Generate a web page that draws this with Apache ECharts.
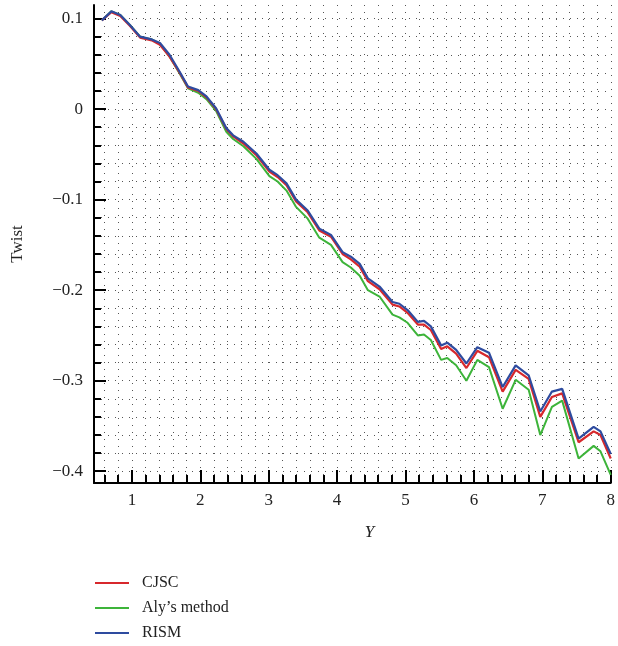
<!DOCTYPE html>
<html>
<head>
<meta charset="utf-8">
<script src="https://cdn.jsdelivr.net/npm/echarts@6/dist/echarts.min.js"></script>
<style>
  html, body { margin: 0; padding: 0; background: #fff; }
  #main { width: 618px; height: 646px; }
</style>
</head>
<body>
<div id="main"></div>
<script>
var names = ['CJSC', 'Aly\u2019s method', 'RISM'];
var xVals = [0.56, 0.70, 0.83, 0.97, 1.12, 1.29, 1.41, 1.55, 1.70, 1.82, 1.97, 2.09, 2.23, 2.38, 2.48, 2.63, 2.82,
  3.01, 3.13, 3.26, 3.40, 3.57, 3.74, 3.91, 4.08, 4.20, 4.33, 4.45, 4.62, 4.81, 4.91, 5.03, 5.18, 5.27, 5.37,
  5.52, 5.61, 5.74, 5.89, 6.05, 6.22, 6.42, 6.61, 6.80, 6.97, 7.14, 7.29, 7.53, 7.75, 7.85, 8.00];
var cjsc = [0.098, 0.107, 0.103, 0.092, 0.079, 0.076, 0.071, 0.058, 0.040, 0.024, 0.020, 0.013, 0.000, -0.022, -0.030, -0.038, -0.051,
  -0.069, -0.075, -0.084, -0.102, -0.114, -0.134, -0.141, -0.160, -0.166, -0.174, -0.190, -0.199, -0.216, -0.218, -0.225, -0.238, -0.238, -0.244,
  -0.265, -0.262, -0.270, -0.286, -0.267, -0.274, -0.312, -0.288, -0.298, -0.340, -0.318, -0.314, -0.368, -0.356, -0.360, -0.386];
var aly = [0.098, 0.108, 0.104, 0.093, 0.080, 0.077, 0.072, 0.058, 0.039, 0.023, 0.018, 0.011, -0.002, -0.025, -0.033, -0.041, -0.055,
  -0.074, -0.080, -0.090, -0.108, -0.121, -0.142, -0.150, -0.169, -0.175, -0.184, -0.200, -0.207, -0.227, -0.230, -0.236, -0.250, -0.249, -0.255,
  -0.277, -0.275, -0.283, -0.300, -0.277, -0.285, -0.331, -0.299, -0.310, -0.360, -0.329, -0.322, -0.386, -0.372, -0.378, -0.404];
var rism = [0.098, 0.108, 0.104, 0.093, 0.080, 0.077, 0.073, 0.060, 0.041, 0.025, 0.021, 0.014, 0.001, -0.021, -0.029, -0.036, -0.049,
  -0.067, -0.073, -0.082, -0.100, -0.112, -0.132, -0.139, -0.158, -0.163, -0.171, -0.187, -0.196, -0.213, -0.215, -0.222, -0.235, -0.234, -0.240,
  -0.261, -0.258, -0.266, -0.281, -0.263, -0.269, -0.307, -0.283, -0.294, -0.334, -0.312, -0.309, -0.364, -0.351, -0.356, -0.381];

// tick positions
var xMinorTicks = [0.6, 0.8, 1, 1.2, 1.4, 1.6, 1.8, 2, 2.2, 2.4, 2.6, 2.8, 3, 3.2, 3.4, 3.6, 3.8, 4, 4.2, 4.4, 4.6, 4.8,
  5, 5.2, 5.4, 5.6, 5.8, 6, 6.2, 6.4, 6.6, 6.8, 7, 7.2, 7.4, 7.6, 7.8, 8];
var xLabels = [1, 2, 3, 4, 5, 6, 7, 8];
var yMinorTicks = [-0.4, -0.38, -0.36, -0.34, -0.32, -0.3, -0.28, -0.26, -0.24, -0.22, -0.2, -0.18, -0.16, -0.14, -0.12,
  -0.1, -0.08, -0.06, -0.04, -0.02, 0, 0.02, 0.04, 0.06, 0.08, 0.1];
var yLabels = [-0.4, -0.3, -0.2, -0.1, 0, 0.1];

function pairs(ys) {
  return xVals.map(function (x, i) { return [x, ys[i]]; });
}

var font = '"Liberation Serif", "DejaVu Serif", serif';
var X_MIN = 0.446, X_MAX = 8, Y_MIN = -0.413, Y_MAX = 0.115;
var lineIcon = 'path://M0,0 L34,0 L34,2 L0,2 Z';

var myChart = echarts.init(document.getElementById('main'));
var option = {
  animation: false,
  grid: { left: 94, right: 6, top: 5, bottom: 163 },
  legend: {
    orient: 'vertical',
    left: 95,
    top: 575,
    height: 71,
    padding: 0,
    itemWidth: 34,
    itemHeight: 14,
    itemGap: 9,
    icon: lineIcon,
    data: names,
    textStyle: { fontFamily: font, fontSize: 16, color: '#222', padding: [0, 0, 0, 8] }
  },
  xAxis: [{
    type: 'value', min: X_MIN, max: X_MAX,
    name: 'Y', nameLocation: 'middle', nameGap: 41,
    nameTextStyle: { fontFamily: font, fontStyle: 'italic', fontSize: 17, color: '#222', padding: [0, 0, 0, 34] },
    axisLine: { onZero: false, lineStyle: { color: '#000', width: 2 } },
    axisTick: { inside: true, length: 8, customValues: xMinorTicks, lineStyle: { color: '#000', width: 2 } },
    axisLabel: { customValues: xLabels, margin: 9, fontFamily: font, fontSize: 17, color: '#222' },
    splitLine: { show: true, lineStyle: { color: '#555', width: 1, type: [1, 6] } }
  }, {
    type: 'value', min: X_MIN, max: X_MAX, position: 'bottom',
    axisLine: { show: false, onZero: false },
    axisTick: { inside: true, length: 13, customValues: xLabels, lineStyle: { color: '#000', width: 2 } },
    axisLabel: { show: false },
    splitLine: { show: false }
  }],
  yAxis: [{
    type: 'value', min: Y_MIN, max: Y_MAX,
    name: 'Twist', nameLocation: 'middle', nameGap: 68,
    nameTextStyle: { fontFamily: font, fontSize: 17, color: '#222' },
    axisLine: { onZero: false, lineStyle: { color: '#000', width: 2 } },
    axisTick: { inside: true, length: 7, customValues: yMinorTicks, lineStyle: { color: '#000', width: 2 } },
    axisLabel: {
      customValues: yLabels, margin: 11, fontFamily: font, fontSize: 17, color: '#222',
      formatter: function (v) { return String(v).replace('-', '\u2212'); }
    },
    splitLine: { show: true, lineStyle: { color: '#555', width: 1, type: [1, 6] } }
  }, {
    type: 'value', min: Y_MIN, max: Y_MAX, position: 'left',
    axisLine: { show: false, onZero: false },
    axisTick: { inside: true, length: 12, customValues: yLabels, lineStyle: { color: '#000', width: 2 } },
    axisLabel: { show: false },
    splitLine: { show: false }
  }],
  series: [
    { name: names[1], type: 'line', data: pairs(aly), symbol: 'none', lineStyle: { color: '#3db43a', width: 2 }, itemStyle: { color: '#3db43a' }, z: 3 },
    { name: names[0], type: 'line', data: pairs(cjsc), symbol: 'none', lineStyle: { color: '#d7282c', width: 2.2 }, itemStyle: { color: '#d7282c' }, z: 4 },
    { name: names[2], type: 'line', data: pairs(rism), symbol: 'none', lineStyle: { color: '#2e4b9f', width: 2.2 }, itemStyle: { color: '#2e4b9f' }, z: 5 }
  ]
};
myChart.setOption(option);
</script>
</body>
</html>
